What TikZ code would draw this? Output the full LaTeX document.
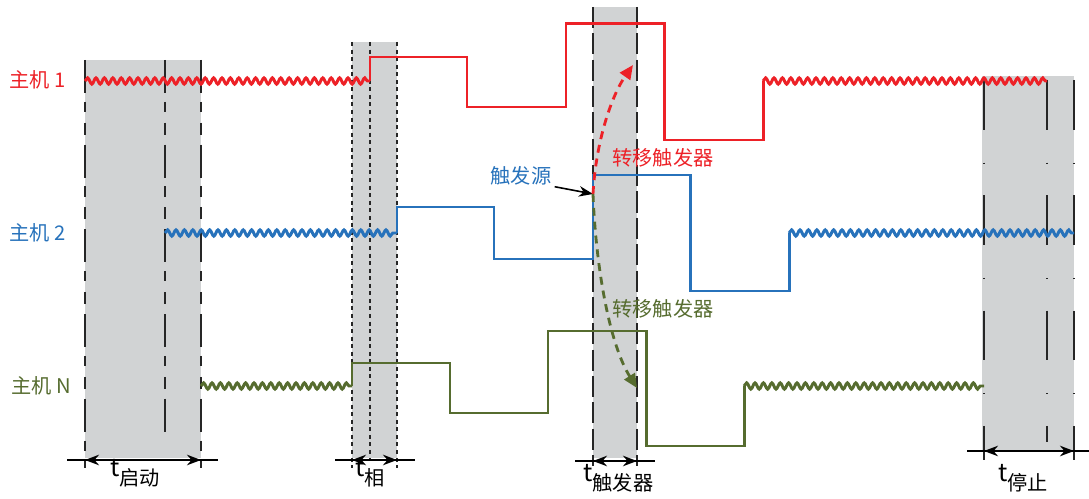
\documentclass[tikz,border=0pt]{standalone}
\usepackage{fontspec}
\setmainfont{Noto Sans CJK SC}
\usepackage{tikz}
\usetikzlibrary{arrows.meta, decorations.pathmorphing}

\definecolor{hostred}{RGB}{237,33,39}
\definecolor{hostblue}{RGB}{39,114,187}
\definecolor{hostgreen}{RGB}{86,108,47}
\definecolor{bandgray}{RGB}{209,211,212}

\newcommand{\tsub}[1]{{\fontsize{14}{14}\selectfont t}\lower5pt\hbox{#1}}

\tikzset{
    wave/.style={decorate, decoration={snake, segment length=0.168cm, amplitude=0.062cm}},
    signal/.style={line width=1.7pt},
    startline/.style={line width=1pt, black!85, dash pattern=on 18.7pt off 5.1pt on 5.7pt off 6.2pt on 6.8pt off 5.7pt},
    phaseline/.style={line width=1pt, black!85, dash pattern=on 2.3pt off 2pt},
    trigline/.style={line width=0.9pt, black!85, dash pattern=on 12pt off 3pt},
    stopline/.style={line width=1pt, black!85, dash pattern=on 28.3pt off 18.7pt on 0.6pt off 18pt},
    dimarrow/.style={line width=1pt, {Stealth[length=8pt,width=6pt]}-{Stealth[length=8pt,width=6pt]}},
    transfer/.style={line width=1.6pt, dash pattern=on 4.5pt off 3.4pt, -{Triangle[length=8pt,width=7pt]}},
    lbl/.style={inner sep=0pt, font=\fontsize{11.5}{13}\selectfont},
}

\begin{document}
\begin{tikzpicture}[x=0.02cm, y=-0.02cm]
\useasboundingbox (0,0) rectangle (1089,499);

    \fill[bandgray] (85,60) rectangle (201,458);
    \fill[bandgray] (352,42) rectangle (397,458);
    \fill[bandgray] (593,7) rectangle (637,458);
    \fill[bandgray] (982,76) rectangle (1074,450);

    \draw[startline] (85,60) -- (85,468);
    \draw[startline] (165,60) -- (165,434);
    \draw[startline] (201,60) -- (201,468);
    \draw[phaseline] (352,42) -- (352,468);
    \draw[phaseline] (370,42) -- (370,458);
    \draw[phaseline] (397,42) -- (397,468);
    \draw[trigline] (593,7) -- (593,466);
    \draw[trigline] (637,7) -- (637,466);
    \draw[stopline] (984,80) -- (984,460);
    \draw[stopline] (1047,80) -- (1047,442);
    \draw[stopline] (1074,80) -- (1074,460);

    \node[lbl, anchor=west, text=hostred] (host1) at (9,80) {主机 1};
    \node[lbl, anchor=west, text=hostblue] (host2) at (9,233) {主机 2};
    \node[lbl, anchor=west, text=hostgreen] (hostN) at (11,386) {主机 N};

    \draw[signal, hostred, wave] (85,81) -- (370,81);
    \draw[signal, hostred] (370,81) -- (370,57) -- (467,57) -- (467,107) -- (566,107) -- (566,24)
        -- (664,24) -- (664,140) -- (763,140) -- (763,81);
    \draw[signal, hostred, wave] (763,81) -- (1047,81);

    \draw[signal, hostblue, wave] (165,233) -- (397,233);
    \draw[signal, hostblue] (397,233) -- (397,207) -- (494,207) -- (494,259) -- (593,259) -- (593,175)
        -- (690,175) -- (690,291) -- (789,291) -- (789,233);
    \draw[signal, hostblue, wave] (789,233) -- (1074,233);

    \draw[signal, hostgreen, wave] (201,386) -- (352,386);
    \draw[signal, hostgreen] (352,386) -- (352,363) -- (450,363) -- (450,413) -- (548,413) -- (548,331)
        -- (646,331) -- (646,446) -- (744,446) -- (744,386);
    \draw[signal, hostgreen, wave] (744,386) -- (984,386);

    \coordinate (P) at (593,194);
    \coordinate (T1) at (633,65);
    \coordinate (TN) at (637,388);
    \node[lbl, text=hostblue] (src) at (521,176) {触发源};
    \draw[line width=0.9pt, -{Stealth[length=8pt,width=6pt]}] (src.south east) ++(3,1) -- (P);
    \draw[transfer, hostred] (P) .. controls (596,140) and (612,95) .. (T1);
    \draw[transfer, hostgreen] (P) .. controls (596,270) and (610,345) .. (TN);
    \node[lbl, text=hostred] (move1) at (663,158) {转移触发器};
    \node[lbl, text=hostgreen] (moveN) at (663,309) {转移触发器};

    \coordinate (a1) at (85,460);
    \coordinate (a2) at (201,460);
    \draw[line width=0.9pt] (67,460) -- (218,460);
    \draw[dimarrow] (a1) -- (a2);
    \node[lbl, anchor=base west] (tstart) at (110,477) {\tsub{启动}};

    \coordinate (b1) at (352,460);
    \coordinate (b2) at (397,460);
    \draw[line width=0.9pt] (335,460) -- (415,460);
    \draw[dimarrow] (b1) -- (b2);
    \node[lbl, anchor=base west] (tphase) at (355,477) {\tsub{相}};

    \coordinate (c1) at (593,461);
    \coordinate (c2) at (637,461);
    \draw[line width=0.9pt] (575,461) -- (655,461);
    \draw[dimarrow] (c1) -- (c2);
    \node[lbl, anchor=base west] (ttrig) at (583,482) {\tsub{触发器}};

    \coordinate (d1) at (984,451);
    \coordinate (d2) at (1074,451);
    \draw[line width=0.9pt] (967,451) -- (1089,451);
    \draw[dimarrow] (d1) -- (d2);
    \node[lbl, anchor=base west] (tstop) at (998,482) {\tsub{停止}};
\end{tikzpicture}
\end{document}
